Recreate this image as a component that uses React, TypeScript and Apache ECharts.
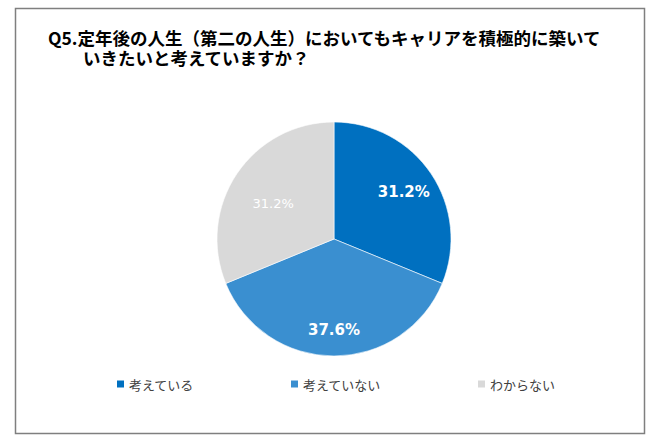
import React, { useEffect, useRef } from "react";
import * as echarts from "echarts";

const titleLine1 = "Q5.定年後の人生（第二の人生）においてもキャリアを積極的に築いて";
const titleLine2 = "いきたいと考えていますか？";
const categories = ["考えている", "考えていない", "わからない"];
const values = [31.2, 37.6, 31.2];
const colors = ["#0070C0", "#3A8FD0", "#D9D9D9"];

const CJK = "'Noto Sans CJK JP', 'Noto Sans', sans-serif";
const NUM = "'DejaVu Sans', Verdana, sans-serif";

export default function App() {
  const ref = useRef<HTMLDivElement>(null);
  useEffect(() => {
    document.body.style.margin = "0";
    const chart = echarts.init(ref.current!, null, { renderer: "svg" });
    const labelStyles = [
      { fontSize: 15, fontWeight: "bold", color: "#ffffff", offset: [0, 0] },
      { fontSize: 15, fontWeight: "bold", color: "#ffffff", offset: [0, 7] },
      { fontSize: 13, fontWeight: "normal", color: "#ffffff", offset: [9, 11] },
    ];
    chart.setOption({
      animation: false,
      backgroundColor: "#ffffff",
      graphic: [
        {
          type: "rect",
          shape: { x: 15.5, y: 8.5, width: 629, height: 425 },
          style: { fill: "none", stroke: "#7f7f7f", lineWidth: 1.5 },
          silent: true,
        },
      ],
      title: {
        text: titleLine1 + "\n\u3000\u3000" + titleLine2,
        left: 48,
        top: 27,
        padding: 0,
        textStyle: { fontSize: 17.5, fontWeight: "bold", color: "#000", fontFamily: CJK, lineHeight: 20.5 },
      },
      legend: {
        left: 115,
        top: 376,
        padding: 0,
        itemGap: 95,
        itemWidth: 9,
        itemHeight: 9,
        icon: "rect",
        selectedMode: false,
        textStyle: { fontSize: 13, color: "#404040", fontFamily: CJK, lineHeight: 16, padding: [0, 0, 0, -1] },
        data: categories.map((c, i) => ({ name: c, itemStyle: { color: colors[i] } })),
      },
      series: [
        {
          type: "pie",
          center: [334, 239],
          radius: 117,
          startAngle: 90,
          clockwise: true,
          silent: true,
          label: { show: false },
          labelLine: { show: false },
          emphasis: { disabled: true },
          itemStyle: { borderColor: "#ffffff", borderWidth: 0.6 },
          data: categories.map((c, i) => ({ name: c, value: values[i], itemStyle: { color: colors[i] } })),
        },
        {
          type: "pie",
          center: [334, 239],
          radius: [45, 117],
          startAngle: 90,
          clockwise: true,
          silent: true,
          avoidLabelOverlap: false,
          emphasis: { disabled: true },
          labelLine: { show: false },
          itemStyle: { color: "rgba(0,0,0,0)" },
          data: categories.map((c, i) => ({
            name: c,
            value: values[i],
            label: {
              show: true,
              position: "inside",
              formatter: (p: any) => p.value.toFixed(1) + "%",
              fontFamily: NUM,
              fontSize: labelStyles[i].fontSize,
              fontWeight: labelStyles[i].fontWeight,
              color: labelStyles[i].color,
              offset: labelStyles[i].offset,
            },
          })),
        },
      ],
    });
    return () => chart.dispose();
  }, []);
  return <div ref={ref} style={{ width: 650, height: 442 }} />;
}
